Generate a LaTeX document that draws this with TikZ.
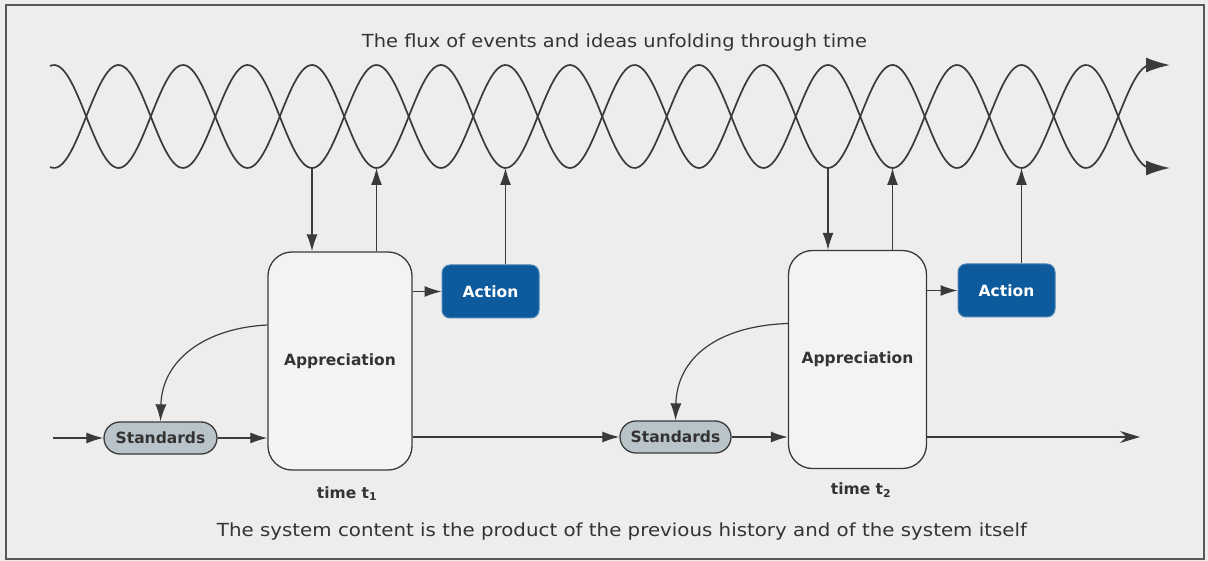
\documentclass[tikz,border=0pt]{standalone}
\usepackage{fontspec}
\usepackage{graphicx}
\setmainfont{DejaVu Sans}
\usetikzlibrary{arrows.meta}
\definecolor{bg}{HTML}{EDEDED}
\definecolor{ink}{HTML}{3A3A3A}
\definecolor{txt}{HTML}{333333}
\definecolor{actfill}{HTML}{0D5A9C}
\definecolor{stdfill}{HTML}{B9C4CA}
\begin{document}
\begin{tikzpicture}[x=1pt,y=-1pt,
  line/.style={draw=ink, line width=1.2pt},
  arr/.style={line, -{Latex[length=17pt,width=11pt]}},
  wave/.style={draw=ink, line width=1.7pt, -{Latex[length=24pt,width=15pt]}},
  lbl/.style={font=\fontsize{15.5}{18}\selectfont\bfseries, text=txt},
  caption/.style={font=\fontsize{18}{20}\selectfont, text=txt, anchor=base, inner sep=0pt},
  apprbox/.style={draw=ink, line width=1.3pt, fill=white!35!bg, rounded corners=24pt,
    minimum height=218pt, inner sep=0pt, lbl},
  actbox/.style={draw=actfill!75!white, line width=1pt, fill=actfill, rounded corners=8pt,
    minimum width=97pt, minimum height=53pt, inner sep=0pt,
    font=\fontsize{15.5}{18}\selectfont\bfseries, text=white},
  stdbox/.style={draw=ink, line width=1.3pt, fill=stdfill, rounded corners=16pt,
    minimum height=32pt, inner sep=0pt, lbl},
]
% page background and frame
\fill[bg] (0,0) rectangle (1208,561);
\useasboundingbox (0,0) rectangle (1208,561);
\draw[ink!85, line width=1.6pt] (6,5) rectangle (1204,559);

% captions
\node[caption] (title) at (614.5,47.5)
  {\resizebox{505pt}{\height}{The flux of events and ideas unfolding through time}};
\node[caption] (foot) at (622,536)
  {\resizebox{810pt}{\height}{The system content is the product of the previous history and of the system itself}};

% the two intertwined strands of events
\draw[wave] plot[domain=50:1150.5, samples=420]
  (\x,{116.5+51.5*cos((\x-54)/64.5*180)}) -- (1170,65);
\draw[wave] plot[domain=50:1150.5, samples=420]
  (\x,{116.5-51.5*cos((\x-54)/64.5*180)}) -- (1170,168);

% troughs where the system touches the flux
\coordinate (t4)  at (312,168);
\coordinate (t5)  at (376.5,168);
\coordinate (t7)  at (505.5,168);
\coordinate (t12) at (828,168);
\coordinate (t13) at (892.5,168);
\coordinate (t15) at (1021.5,168);

% first moment
\node[apprbox, minimum width=144pt] (app1) at (340,361) {Appreciation};
\node[actbox] (act1) at (490.5,291.5) {Action};
\node[stdbox, minimum width=113pt] (std1) at (160.5,438) {Standards};
\node[lbl, anchor=base] (time1) at (347,498) {time t\textsubscript{1}};

% second moment
\node[apprbox, minimum width=138pt] (app2) at (857.5,359.5) {Appreciation};
\node[actbox] (act2) at (1006.5,290.5) {Action};
\node[stdbox, minimum width=111pt] (std2) at (675.5,437) {Standards};
\node[lbl, anchor=base] (time2) at (861,494) {time t\textsubscript{2}};

\coordinate (in)  at (53,438);
\coordinate (out) at (1140,437);

% connectors, first moment
\draw[arr] (in) -- (std1.west);
\draw[arr] (std1.east) -- (std1.east -| app1.west);
\draw[arr] ([yshift=36pt]app1.west) .. controls (205,328) and (162,360) .. (std1.north);
\draw[arr] (app1.east |- act1.west) -- (act1.west);
\draw[arr] (t4) -- (t4 |- app1.north);
\draw[arr] (app1.north -| t5) -- (t5);
\draw[arr] (act1.north -| t7) -- (t7);
\draw[arr] (app1.east |- std2.west) -- (std2.west);

% connectors, second moment
\draw[arr] (std2.east) -- (std2.east -| app2.west);
\draw[arr] ([yshift=36pt]app2.west) .. controls (717,326) and (677,358) .. (std2.north);
\draw[arr] (app2.east |- act2.west) -- (act2.west);
\draw[arr] (t12) -- (t12 |- app2.north);
\draw[arr] (app2.north -| t13) -- (t13);
\draw[arr] (act2.north -| t15) -- (t15);
\draw[line, -{Stealth[length=20pt,width=12pt]}] (app2.east |- out) -- (out);
\end{tikzpicture}
\end{document}
